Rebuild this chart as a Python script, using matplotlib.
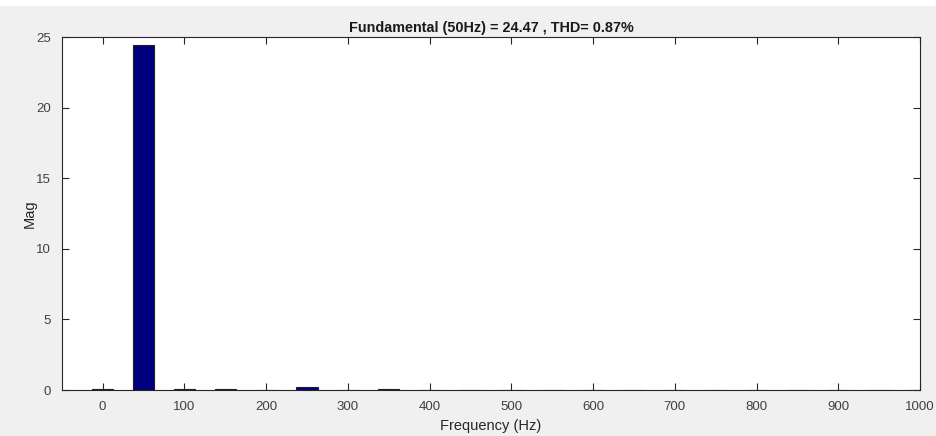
import numpy as np
import matplotlib
matplotlib.use("Agg")
import matplotlib.pyplot as plt
from matplotlib.patches import Rectangle

# harmonic spectrum, every 50 Hz from 0 to 1000 Hz
freqs = [0, 50, 100, 150, 200, 250, 300, 350, 400, 450, 500,
         550, 600, 650, 700, 750, 800, 850, 900, 950, 1000]
mags = [0.10, 24.47, 0.08, 0.05, 0.03, 0.20, 0.03, 0.05, 0.02, 0.02, 0.02,
        0.02, 0.01, 0.01, 0.01, 0.02, 0.01, 0.01, 0.01, 0.01, 0.01]
xticks = [0, 100, 200, 300, 400, 500, 600, 700, 800, 900, 1000]
yticks = [0, 5, 10, 15, 20, 25]
title = "Fundamental (50Hz) = 24.47 , THD= 0.87%"

plt.rcParams['font.family'] = ['Liberation Sans', 'DejaVu Sans']

fig = plt.figure(figsize=(9.36, 4.36), dpi=100, facecolor='#f0f0f0')
# thin white strip along the top of the window
fig.patches.append(Rectangle((0, 0.986), 1, 0.014, transform=fig.transFigure,
                             facecolor='white', edgecolor='none', zorder=0))
ax = fig.add_axes([0.066, 0.1055, 0.917, 0.8095])
ax.set_facecolor('white')

ax.bar(freqs, mags, width=26, color='#00007f', edgecolor='#202020', linewidth=0.8)

ax.set_xlim(-50, 1000)
ax.set_ylim(0, 25)
ax.set_xticks(xticks)
ax.set_yticks(yticks)
ax.tick_params(direction='in', top=True, right=True, length=5, width=0.8,
               colors='#262626', labelsize=9.5, labelcolor='#404040', pad=8)
for s in ax.spines.values():
    s.set_color('#262626')
    s.set_linewidth(0.8)

ax.set_xlabel('Frequency (Hz)', fontsize=10.5, color='#262626', labelpad=4)
ax.set_ylabel('Mag', fontsize=10.5, color='#262626', labelpad=-1)
ax.set_title(title, fontsize=10.4, fontweight='bold', color='#1a1a1a', pad=4)

fig.savefig('out.png', dpi=100, facecolor=fig.get_facecolor())
